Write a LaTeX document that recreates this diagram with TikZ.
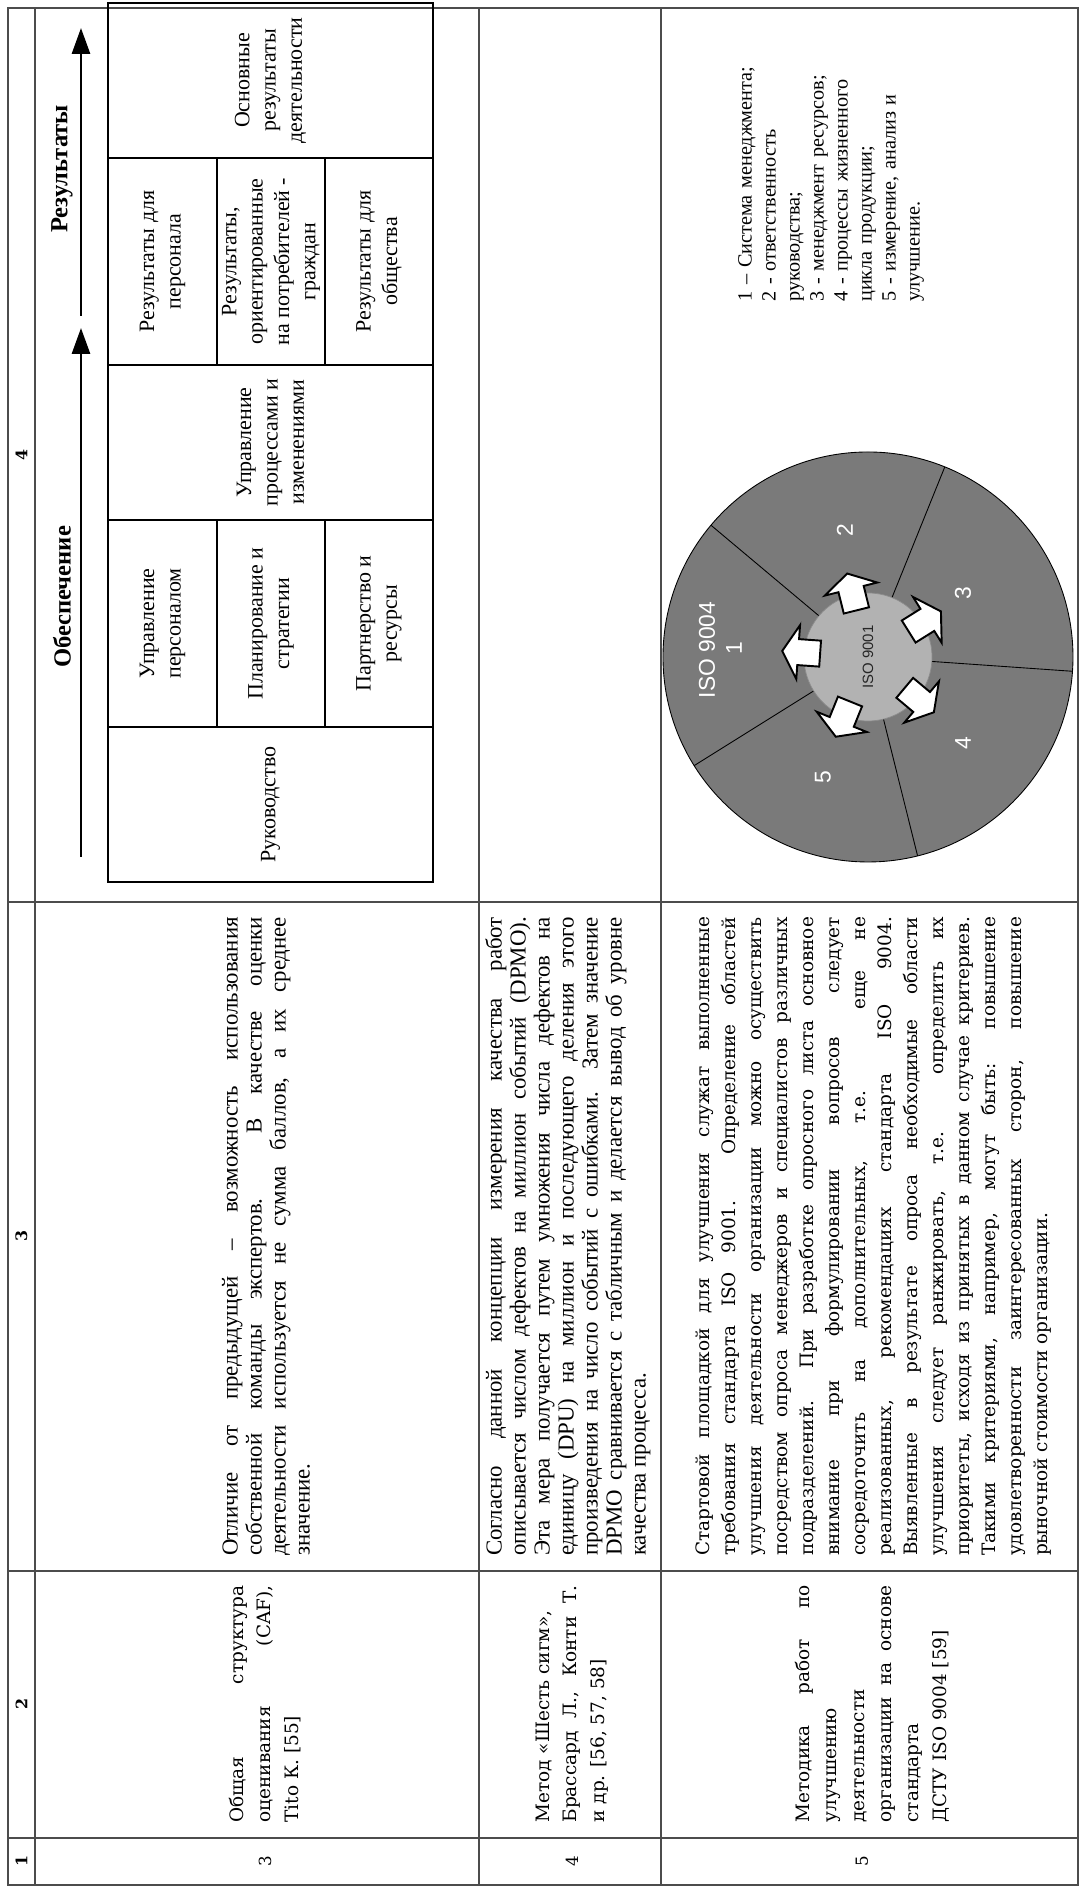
\documentclass[tikz,border=0pt]{standalone}
\usepackage{fontspec}
\setmainfont{Liberation Serif}
\newfontfamily\wideserif{DejaVu Serif}
\newfontfamily\isofont{Liberation Sans}
\usetikzlibrary{arrows.meta}
\tolerance=10000
\hbadness=10000
\hyphenpenalty=10000

\begin{document}
\begin{tikzpicture}[
    x=0.02cm, y=0.02cm,
    % table
    gridrule/.style={draw=black!70, line width=0.6pt},
    headnum/.style={font=\wideserif\bfseries\fontsize{9pt}{10pt}\selectfont},
    rownum/.style={font=\wideserif\fontsize{9.5pt}{11pt}\selectfont},
    % text of columns 2 and 3
    srcbox/.style={text width=4.74cm, align=justify, inner sep=0pt,
      font=\wideserif\fontsize{10.5pt}{15.6pt}\selectfont},
    descbox/.style={text width=12.78cm, align=justify, inner sep=0pt,
      font=\fontsize{13pt}{13.66pt}\selectfont},
    descwide/.style={descbox, font=\wideserif\fontsize{10.5pt}{14.8pt}\selectfont},
    % CAF scheme
    cafframe/.style={draw, line width=1.1pt},
    cafline/.style={draw, line width=0.8pt},
    caf/.style={align=center, inner sep=0pt, font=\fontsize{12.5pt}{15pt}\selectfont},
    cafhead/.style={inner sep=0pt, font=\bfseries\fontsize{14pt}{16pt}\selectfont},
    flowarrow/.style={line width=1.6pt, -{Triangle[length=0.52cm, width=0.36cm]}},
    % ISO wheel
    sector/.style={fill=black!52, draw=black, line width=0.5pt},
    hub/.style={fill=black!30, draw=black!45, line width=0.4pt},
    spoke/.style={draw=black, line width=0.5pt},
    pusharrow/.style={fill=white, draw=black, line width=1.1pt, line join=miter},
    wheeltxt/.style={text=white, inner sep=0pt, font=\isofont\fontsize{13pt}{14pt}\selectfont},
    keylist/.style={text width=5.3cm, align=left, inner sep=0pt,
      font=\fontsize{11.5pt}{13.66pt}\selectfont},
  ]
\begin{scope}[rotate=90, transform shape]
  \useasboundingbox (0,0) rectangle (1886,1081);

  % table grid
  \draw[gridrule] (1,3) rectangle (1878,1073);
  \draw[gridrule] (1,1046) -- (1878,1046);
  \foreach \y in {420,602} \draw[gridrule] (1,\y) -- (1878,\y);
  \foreach \x in {48,315,984} \draw[gridrule] (\x,3) -- (\x,1073);

  \foreach \n/\x in {1/24.5,2/181.5,3/649.5,4/1431}
    \node[headnum] (h\n) at (\x,1059.5) {\n};
  \foreach \n/\y in {3/816,4/509,5/219}
    \node[rownum] (n\n) at (24.5,\y) {\n};

  % column 2
  \node[srcbox] (src3) at (182,816) {Общая структура\linebreak оценивания (CAF),\linebreak Tito К. [55]};
  \node[srcbox] (src4) at (182,509) {Метод «Шесть сигм»,\newline Брассард Л., Конти Т.\linebreak и др. [56, 57, 58]};
  \node[srcbox] (src5) at (182,209) {Методика работ по\linebreak улучшению\newline деятельности\newline организации на основе\linebreak стандарта\newline ДСТУ ISO 9004 [59]};

  % column 3
  \node[descbox] (desc3) at (649.5,815) {Отличие от предыдущей – возможность использования\linebreak собственной команды экспертов. В качестве оценки\linebreak деятельности используется не сумма баллов, а их среднее\linebreak значение.};
  \node[descbox] (desc4) at (649.5,513) {Согласно данной концепции измерения качества работ\linebreak описывается числом дефектов на миллион событий (DPMO).\linebreak Эта мера получается путем умножения числа дефектов на\linebreak единицу (DPU) на миллион и последующего деления этого\linebreak произведения на число событий с ошибками. Затем значение\linebreak DPMO сравнивается с табличным и делается вывод об уровне\linebreak качества процесса.};
  \node[descwide] (desc5) at (649.5,207) {Стартовой площадкой для улучшения служат выполненные\linebreak требования стандарта ISO 9001. Определение областей\linebreak улучшения деятельности организации можно осуществить\linebreak посредством опроса менеджеров и специалистов различных\linebreak подразделений. При разработке опросного листа основное\linebreak внимание при формулировании вопросов следует\linebreak сосредоточить на дополнительных, т.е. еще не\linebreak реализованных, рекомендациях стандарта ISO 9004.\linebreak Выявленные в результате опроса необходимые области\linebreak улучшения следует ранжировать, т.е. определить их\linebreak приоритеты, исходя из принятых в данном случае критериев.\linebreak Такими критериями, например, могут быть: повышение\linebreak удовлетворенности заинтересованных сторон, повышение\linebreak рыночной стоимости организации.};

  % CAF scheme
  \draw[cafframe] (1004,648) rectangle (1883,973);
  \foreach \x in {1159,1366,1521,1728} \draw[cafline] (\x,648) -- (\x,973);
  \foreach \y in {756,864} {
    \draw[cafline] (1159,\y) -- (1366,\y);
    \draw[cafline] (1521,\y) -- (1728,\y);
  }
  \node[caf] (lead) at (1081.5,810.5) {Руководство};
  \node[caf] (staff) at (1262.5,918.5) {Управление\\персоналом};
  \node[caf] (plan) at (1262.5,810) {Планирование и\\стратегии};
  \node[caf] (partner) at (1262.5,702) {Партнерство и\\ресурсы};
  \node[caf] (proc) at (1443.5,810.5) {Управление\\процессами и\\изменениями};
  \node[caf] (resstaff) at (1624.5,918.5) {Результаты для\\персонала};
  \node[caf] (rescust) at (1624.5,810) {Результаты,\\ориентированные\\на потребителей -\\граждан};
  \node[caf] (ressoc) at (1624.5,702) {Результаты для\\общества};
  \node[caf] (keyres) at (1805.5,810.5) {Основные\\результаты\\деятельности};

  \node[cafhead] (enable) at (1289,1019) {Обеспечение};
  \node[cafhead] (result) at (1717,1019) {Результаты};
  \coordinate (e0) at (1029,1000);
  \coordinate (e1) at (1558,1000);
  \coordinate (r0) at (1570,1000);
  \coordinate (r1) at (1858,1000);
  \draw[flowarrow] (e0) -- (e1);
  \draw[flowarrow] (r0) -- (r1);

  % ISO wheel
  \begin{scope}[shift={(1229,213)}]
    \coordinate (wheel) at (0,0);
    \draw[sector] (wheel) circle (205);
    \foreach \a in {50,122,194,266,338} \draw[spoke] (\a:64) -- (\a:205);
    \draw[hub] (wheel) circle (64);
    \foreach \a in {14,86,158,230,302}
      \draw[pusharrow, rotate=\a] (48,-13) -- (70,-13) -- (70,-27) -- (86,0)
        -- (70,27) -- (70,13) -- (48,13) -- cycle;
    \node[wheeltxt, text=black!85, font=\isofont\fontsize{8.5pt}{10pt}\selectfont] (iso9001) at (wheel) {ISO 9001};
    \node[wheeltxt] (iso9004) at (7,161) {ISO 9004};
    \node[wheeltxt] (p1) at (9,134) {1};
    \node[wheeltxt] (p2) at (127,23) {2};
    \node[wheeltxt] (p3) at (64,-95) {3};
    \node[wheeltxt] (p4) at (-86,-95) {4};
    \node[wheeltxt] (p5) at (-120,45) {5};
  \end{scope}

  \node[keylist, anchor=west] (isokey) at (1584,250) {1 – Система менеджмента;\\2 - ответственность\\руководства;\\3 - менеджмент ресурсов;\\4 - процессы жизненного\\цикла продукции;\\5 - измерение, анализ и\\улучшение.};
\end{scope}
\end{tikzpicture}
\end{document}
